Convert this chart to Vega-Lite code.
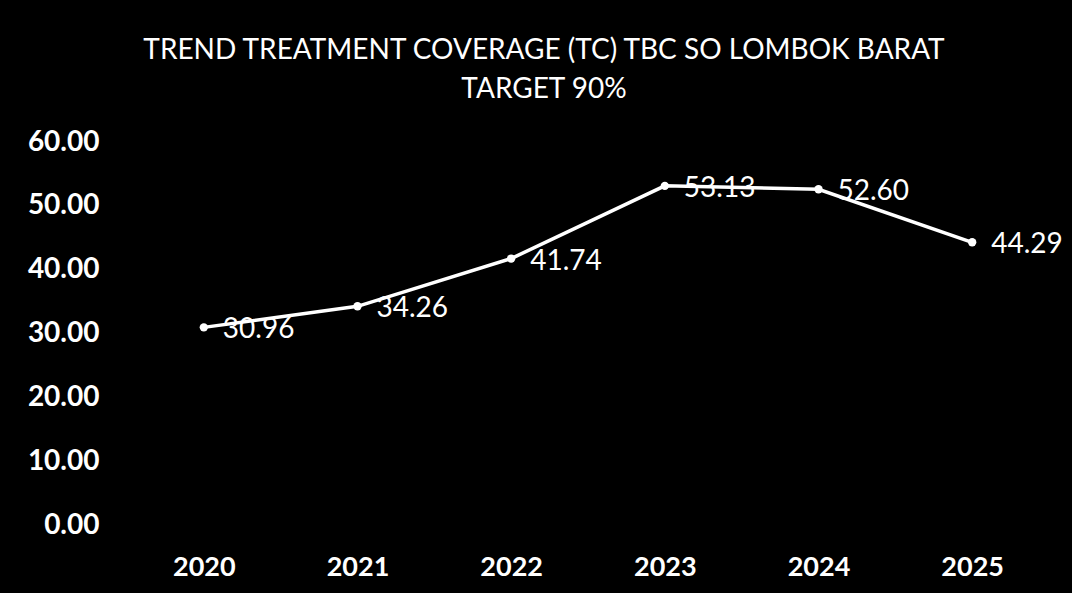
{
  "$schema": "https://vega.github.io/schema/vega-lite/v6.json",
  "width": 922,
  "height": 383,
  "autosize": {"type": "none"},
  "padding": {"left": 127, "top": 142, "right": 23, "bottom": 68},
  "background": "#000000",
  "title": {
    "text": ["TREND TREATMENT COVERAGE (TC) TBC SO LOMBOK BARAT", "TARGET 90%"],
    "color": "#ffffff",
    "font": "Lato",
    "fontSize": 28,
    "fontWeight": "normal",
    "lineHeight": 39,
    "anchor": "middle",
    "dx": -44,
    "offset": 24
  },
  "data": {
    "values": [
      {"year": "2020", "tc": 30.96},
      {"year": "2021", "tc": 34.26},
      {"year": "2022", "tc": 41.74},
      {"year": "2023", "tc": 53.13},
      {"year": "2024", "tc": 52.60},
      {"year": "2025", "tc": 44.29}
    ]
  },
  "config": {
    "view": {"stroke": null},
    "axis": {
      "grid": false,
      "domain": false,
      "ticks": false,
      "labelColor": "#ffffff",
      "labelFont": "Lato",
      "labelFontWeight": "bold",
      "title": null
    }
  },
  "encoding": {
    "x": {
      "field": "year",
      "type": "ordinal",
      "scale": {"type": "point", "padding": 0.5},
      "axis": {"labelAngle": 0, "labelPadding": 29, "labelFontSize": 27}
    },
    "y": {
      "field": "tc",
      "type": "quantitative",
      "scale": {"domain": [0, 60], "nice": false, "zero": true},
      "axis": {"values": [0, 10, 20, 30, 40, 50, 60], "format": ".2f", "labelPadding": 28, "labelFontSize": 28}
    }
  },
  "layer": [
    {
      "mark": {"type": "line", "color": "#ffffff", "strokeWidth": 3.5}
    },
    {
      "mark": {"type": "point", "filled": true, "color": "#ffffff", "opacity": 1, "size": 70}
    },
    {
      "mark": {"type": "text", "color": "#ffffff", "font": "Lato", "fontSize": 28, "align": "left", "baseline": "middle", "dx": 19, "dy": 3},
      "encoding": {
        "text": {"field": "tc", "type": "quantitative", "format": ".2f"}
      }
    }
  ]
}
